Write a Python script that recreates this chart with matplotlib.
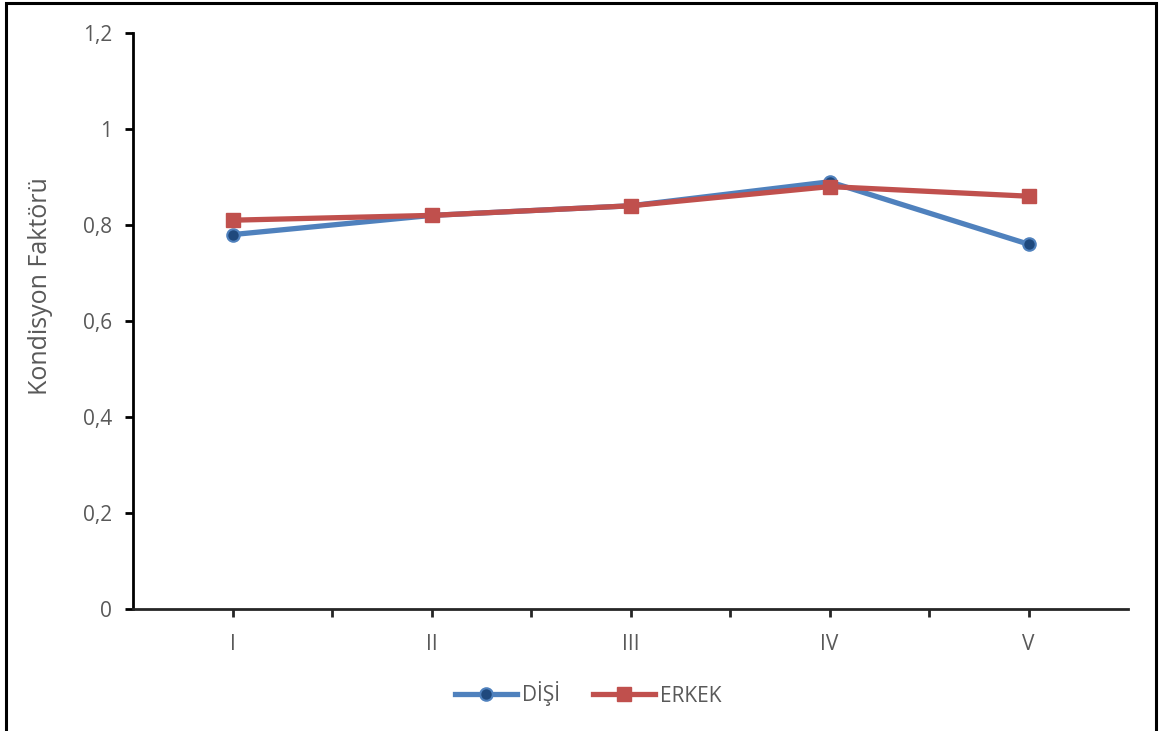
import matplotlib.pyplot as plt
from matplotlib.patches import Rectangle
from matplotlib.ticker import FixedLocator

plt.rcParams['font.family'] = ['Open Sans', 'DejaVu Sans']

groups = ['I', 'II', 'III', 'IV', 'V']
disi = [0.78, 0.82, 0.84, 0.89, 0.76]
erkek = [0.81, 0.82, 0.84, 0.88, 0.86]
yticks = [0, 0.2, 0.4, 0.6, 0.8, 1.0, 1.2]
ylabels = ['0', '0,2', '0,4', '0,6', '0,8', '1', '1,2']

fig = plt.figure(figsize=(11.68, 7.31), dpi=100)
ax = fig.add_axes([133 / 1168, 1 - 609 / 731, 995 / 1168, 576 / 731])

# outer chart border
fig.patches.append(Rectangle((6 / 1168, -0.05), 1150 / 1168, 1.05 - 3 / 731,
                             transform=fig.transFigure, fill=False,
                             edgecolor='black', linewidth=2.2))

x = list(range(len(groups)))
ax.plot(x, disi, color='#4F81BD', linewidth=3.8, marker='o', markersize=9,
        markerfacecolor='#1F497D', markeredgecolor='#4F81BD',
        markeredgewidth=1.5, label='DİŞİ', zorder=3)
ax.plot(x, erkek, color='#C0504D', linewidth=3.8, marker='s', markersize=10,
        markerfacecolor='#C0504D', markeredgecolor='#C0504D',
        label='ERKEK', zorder=4)

ax.set_xlim(-0.5, 4.5)
ax.set_ylim(0, 1.2)
ax.set_xticks(x)
ax.set_xticklabels(groups)
ax.xaxis.set_minor_locator(FixedLocator([0.5, 1.5, 2.5, 3.5]))
ax.set_yticks(yticks)
ax.set_yticklabels(ylabels)

for side in ['top', 'right']:
    ax.spines[side].set_visible(False)
ax.spines['left'].set_linewidth(2)
ax.spines['bottom'].set_linewidth(2)
ax.spines['bottom'].set_color('#262626')

fs = 15
ax.tick_params(axis='y', direction='out', length=6, width=2, colors='black',
               labelcolor='#595959', labelsize=fs, pad=9)
ax.tick_params(axis='x', which='both', direction='out', length=6, width=2,
               colors='#262626', labelcolor='#595959', labelsize=fs, pad=12)

ax.set_ylabel('Kondisyon Faktörü', fontsize=18, color='#595959')
ax.yaxis.set_label_coords(-0.08, 0.56)

ax.legend(loc='center', bbox_to_anchor=(588 / 1168, 1 - 694 / 731),
          bbox_transform=fig.transFigure, ncol=2, frameon=False,
          fontsize=fs, labelcolor='#595959', handlelength=3.0,
          columnspacing=1.6, handletextpad=0.2)

fig.savefig('out.png', dpi=100)
